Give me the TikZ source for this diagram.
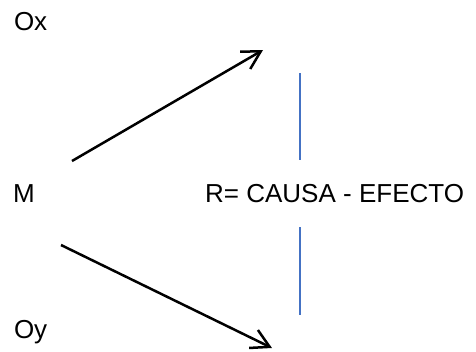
\documentclass[tikz,border=0pt]{standalone}
\usepackage{fontspec}
\setmainfont{Liberation Sans}
\usetikzlibrary{arrows.meta}
\definecolor{linkblue}{RGB}{68,114,196}
\tikzset{
  lbl/.style={anchor=base west, inner sep=0pt, font=\fontsize{26}{30}\selectfont},
  flow/.style={line width=2.5pt, -{Straight Barb[length=18pt,width=20pt]}},
  divider/.style={linkblue, line width=2pt}
}
\begin{document}
\begin{tikzpicture}[x=1pt,y=-1pt]
  \useasboundingbox (0,0) rectangle (476,351);
  % labels
  \node[lbl] (ox) at (13.8,30) {Ox};
  \node[lbl] (m)  at (13,202) {M};
  \node[lbl] (oy) at (13.8,338) {Oy};
  \node[lbl] (rel) at (205,202) {R= CAUSA - EFECTO};
  % arrow end points
  \coordinate (upstart) at (72,161);
  \coordinate (uptip)   at (263,50);
  \coordinate (dnstart) at (61,245);
  \coordinate (dntip)   at (272,348);
  % vertical separators above and below the relation
  \coordinate (s1) at (300,73);
  \coordinate (s2) at (300,160);
  \coordinate (s3) at (300,227);
  \coordinate (s4) at (300,315);
  \draw[flow] (upstart) -- (uptip);
  \draw[flow] (dnstart) -- (dntip);
  \draw[divider] (s1) -- (s2);
  \draw[divider] (s3) -- (s4);
\end{tikzpicture}
\end{document}
